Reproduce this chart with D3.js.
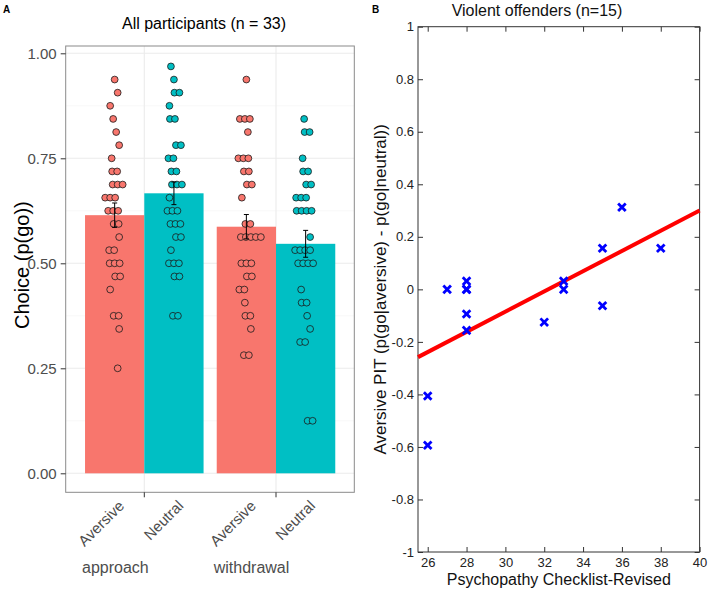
<!DOCTYPE html>
<html>
<head>
<meta charset="utf-8">
<script src="https://cdn.jsdelivr.net/npm/d3@7"></script>
<style>
  html, body { margin: 0; padding: 0; background: #fff; }
  svg { display: block; font-family: "Liberation Sans", Arial, Helvetica, sans-serif; }
</style>
</head>
<body>
<svg id="chart" width="708" height="591"></svg>
<script>
// ---------------- DATA ----------------
// Panel A: proportion of go choices per participant (n = 33), per block type and cue
const groups = ["approach", "withdrawal"];
const conditions = ["Aversive", "Neutral"];
const approachAversive = [0.9375,0.90625,0.875,0.84375,0.8125,0.78125,0.75,0.71875,0.71875,0.6875,0.6875,0.65625,0.65625,0.625,0.625,0.59375,0.5625,0.53125,0.53125,0.5,0.5,0.5,0.46875,0.46875,0.4375,0.375,0.375,0.34375,0.25,0.6875,0.65625,0.625,0.59375];
const approachNeutral = [0.96875,0.9375,0.90625,0.90625,0.875,0.84375,0.78125,0.78125,0.75,0.71875,0.6875,0.6875,0.65625,0.625,0.625,0.59375,0.59375,0.5625,0.53125,0.5,0.5,0.46875,0.375,0.375,0.84375,0.75,0.71875,0.6875,0.625,0.59375,0.5625,0.5,0.46875];
const withdrawalAversive = [0.9375,0.84375,0.84375,0.8125,0.75,0.75,0.71875,0.71875,0.6875,0.65625,0.59375,0.5625,0.5625,0.5625,0.5,0.46875,0.46875,0.4375,0.4375,0.40625,0.375,0.34375,0.28125,0.28125,0.84375,0.75,0.6875,0.59375,0.5625,0.5,0.5,0.375,0.5625];
const withdrawalNeutral = [0.84375,0.8125,0.75,0.71875,0.71875,0.6875,0.65625,0.65625,0.65625,0.625,0.625,0.625,0.5625,0.53125,0.53125,0.5,0.5,0.4375,0.40625,0.375,0.34375,0.3125,0.3125,0.125,0.125,0.8125,0.6875,0.625,0.53125,0.53125,0.5,0.5,0.40625];
const standardErrors = [0.029, 0.027, 0.029, 0.032]; // approach-Aversive, approach-Neutral, withdrawal-Aversive, withdrawal-Neutral
const yTicksA = [0, 0.25, 0.5, 0.75, 1];
const yMinorA = [0.125, 0.375, 0.625, 0.875];

// Panel B: violent offenders (n = 15)
const pclr = [26, 26, 27, 28, 28, 28, 28, 28, 32, 33, 33, 35, 35, 36, 38];
const aversivePIT = [-0.40625, -0.59375, 0, 0.03125, 0, 0, -0.09375, -0.15625, -0.125, 0.03125, 0, 0.15625, -0.0625, 0.3125, 0.15625];
const fitX = [25.5, 40];
const fitY = [-0.258, 0.300];
const xTicksB = [26, 28, 30, 32, 34, 36, 38, 40];
const yTicksB = [-1, -0.8, -0.6, -0.4, -0.2, 0, 0.2, 0.4, 0.6, 0.8, 1];

// ---------------- CHART ----------------
const svg = d3.select("#chart");
const fillColor = { Aversive: "#F8766D", Neutral: "#00BFC4" };
const seriesMap = {
  "approach|Aversive": approachAversive,
  "approach|Neutral": approachNeutral,
  "withdrawal|Aversive": withdrawalAversive,
  "withdrawal|Neutral": withdrawalNeutral
};
const seKeys = ["approach|Aversive", "approach|Neutral", "withdrawal|Aversive", "withdrawal|Neutral"];

// ---- Panel A ----
const A = { left: 65.7, right: 354.3, top: 46, bottom: 492.3 };
const yA = d3.scaleLinear().domain([0, 1]).range([473.3, 53.3]);
const xA = d3.scaleBand().domain(groups).range([78.45, 341.85]);
const dodge = xA.bandwidth() * 0.9;
const xSub = d3.scaleBand().domain(conditions).range([0, dodge]);
const barX = (g, c) => xA(g) + (xA.bandwidth() - dodge) / 2 + xSub(c);
const barCenter = (g, c) => barX(g, c) + xSub.bandwidth() / 2;

const gA = svg.append("g");
gA.append("rect").attr("x", A.left).attr("y", A.top).attr("width", A.right - A.left).attr("height", A.bottom - A.top).attr("fill", "#fff");
// grid
gA.selectAll(".minor").data(yMinorA).join("line")
  .attr("x1", A.left).attr("x2", A.right).attr("y1", d => yA(d)).attr("y2", d => yA(d))
  .attr("stroke", "#F2F2F2").attr("stroke-width", 0.6);
gA.selectAll(".major").data(yTicksA).join("line")
  .attr("x1", A.left).attr("x2", A.right).attr("y1", d => yA(d)).attr("y2", d => yA(d))
  .attr("stroke", "#EBEBEB").attr("stroke-width", 1.1);
gA.selectAll(".vgrid").data(groups).join("line")
  .attr("x1", d => xA(d) + xA.bandwidth() / 2).attr("x2", d => xA(d) + xA.bandwidth() / 2)
  .attr("y1", A.top).attr("y2", A.bottom)
  .attr("stroke", "#EBEBEB").attr("stroke-width", 1.1);

// bars
const barData = [];
groups.forEach(g => conditions.forEach(c => {
  const vals = seriesMap[g + "|" + c];
  barData.push({ g, c, mean: d3.mean(vals), se: standardErrors[seKeys.indexOf(g + "|" + c)], vals });
}));
gA.selectAll(".bar").data(barData).join("rect")
  .attr("x", d => barX(d.g, d.c)).attr("width", xSub.bandwidth())
  .attr("y", d => yA(d.mean)).attr("height", d => yA(0) - yA(d.mean))
  .attr("fill", d => fillColor[d.c]);

// points (deterministic spread of tied values)
const pts = [];
barData.forEach(b => {
  const byVal = d3.group(b.vals, v => v);
  byVal.forEach((arr, v) => {
    const k = Math.round(v * 32);
    const shift = (((k * 5) % 7) - 3) * 1.5;
    arr.forEach((vv, i) => {
      pts.push({ c: b.c, x: barCenter(b.g, b.c) + (i - (arr.length - 1) / 2) * 5 + shift, v: vv });
    });
  });
});
gA.selectAll(".pt").data(pts).join("circle")
  .attr("cx", d => d.x).attr("cy", d => yA(d.v)).attr("r", 3.4)
  .attr("fill", d => fillColor[d.c]).attr("stroke", "#1a1a1a").attr("stroke-width", 0.8);

// error bars
const eb = gA.selectAll(".eb").data(barData).join("g").attr("stroke", "#000").attr("stroke-width", 1);
eb.append("line").attr("x1", d => barCenter(d.g, d.c)).attr("x2", d => barCenter(d.g, d.c))
  .attr("y1", d => yA(d.mean + d.se)).attr("y2", d => yA(d.mean - d.se));
eb.append("line").attr("x1", d => barCenter(d.g, d.c) - 2.5).attr("x2", d => barCenter(d.g, d.c) + 2.5)
  .attr("y1", d => yA(d.mean + d.se)).attr("y2", d => yA(d.mean + d.se));
eb.append("line").attr("x1", d => barCenter(d.g, d.c) - 2.5).attr("x2", d => barCenter(d.g, d.c) + 2.5)
  .attr("y1", d => yA(d.mean - d.se)).attr("y2", d => yA(d.mean - d.se));

// border
gA.append("rect").attr("x", A.left).attr("y", A.top).attr("width", A.right - A.left).attr("height", A.bottom - A.top)
  .attr("fill", "none").attr("stroke", "#8a8a8a").attr("stroke-width", 1);

// y axis
const yAxisA = d3.axisLeft(yA).tickValues(yTicksA).tickFormat(d3.format(".2f")).tickSize(5).tickPadding(4);
const gyA = svg.append("g").attr("transform", `translate(${A.left},0)`).call(yAxisA);
gyA.select(".domain").remove();
gyA.selectAll(".tick line").attr("stroke", "#333");
gyA.selectAll(".tick text").attr("fill", "#4D4D4D").style("font-size", "15px").style("font-family", "Liberation Sans, Arial, sans-serif");

// x ticks at group centres
svg.selectAll(".xtA").data(groups).join("line")
  .attr("x1", d => xA(d) + xA.bandwidth() / 2).attr("x2", d => xA(d) + xA.bandwidth() / 2)
  .attr("y1", A.bottom).attr("y2", A.bottom + 5).attr("stroke", "#333");

// rotated condition labels
svg.selectAll(".xlabA").data(barData).join("text")
  .attr("transform", d => `translate(${barCenter(d.g, d.c) + 3},${A.bottom + 7}) rotate(-45)`)
  .attr("text-anchor", "end").attr("dy", "0.7em")
  .attr("fill", "#4D4D4D").style("font-size", "15px").text(d => d.c);

// group labels
svg.selectAll(".glabA").data(groups).join("text")
  .attr("x", d => xA(d) + (xA.bandwidth() - dodge) / 2 - 3).attr("y", 573)
  .attr("fill", "#4D4D4D").style("font-size", "16px").text(d => d);

// titles
svg.append("text").attr("x", 204).attr("y", 29).attr("text-anchor", "middle").style("font-size", "16px").attr("fill", "#000").text("All participants (n = 33)");
svg.append("text").attr("transform", `translate(29,${(A.top + A.bottom) / 2 - 4}) rotate(-90)`).attr("text-anchor", "middle")
  .style("font-size", "20px").attr("fill", "#000").text("Choice (p(go))");
svg.append("text").attr("x", 3).attr("y", 13).style("font-size", "10px").style("font-weight", "bold").text("A");

// ---- Panel B ----
const B = { left: 418, right: 699.6, top: 26.7, bottom: 552 };
const xB = d3.scaleLinear().domain([25.5, 40]).range([B.left, B.right]);
const yB = d3.scaleLinear().domain([-1, 1]).range([B.bottom, B.top]);
const fmtB = d => String(+d.toFixed(1));
const gB = svg.append("g");

const axL = gB.append("g").attr("transform", `translate(${B.left},0)`)
  .call(d3.axisLeft(yB).tickValues(yTicksB).tickFormat(fmtB).tickSizeInner(-5).tickSizeOuter(0).tickPadding(4));
const axR = gB.append("g").attr("transform", `translate(${B.right},0)`)
  .call(d3.axisRight(yB).tickValues(yTicksB).tickFormat("").tickSizeInner(-5).tickSizeOuter(0));
const axBt = gB.append("g").attr("transform", `translate(0,${B.bottom})`)
  .call(d3.axisBottom(xB).tickValues(xTicksB).tickFormat(d3.format("d")).tickSizeInner(-5).tickSizeOuter(0).tickPadding(6));
const axT = gB.append("g").attr("transform", `translate(0,${B.top})`)
  .call(d3.axisTop(xB).tickValues(xTicksB).tickFormat("").tickSizeInner(-5).tickSizeOuter(0));
[axL, axR, axBt, axT].forEach(a => {
  a.select(".domain").remove();
  a.selectAll(".tick line").attr("stroke", "#333");
  a.selectAll(".tick text").attr("fill", "#222").style("font-size", "13px").style("font-family", "Liberation Sans, Arial, sans-serif");
});
gB.append("rect").attr("x", B.left).attr("y", B.top).attr("width", B.right - B.left).attr("height", B.bottom - B.top)
  .attr("fill", "none").attr("stroke", "#333").attr("stroke-width", 1);

// regression line
gB.append("path").datum(fitX.map((x, i) => [x, fitY[i]]))
  .attr("d", d3.line().x(d => xB(d[0])).y(d => yB(d[1])))
  .attr("stroke", "#FF0000").attr("stroke-width", 4).attr("fill", "none");

// markers
const mk = gB.selectAll(".mk").data(pclr.map((x, i) => ({ x, y: aversivePIT[i] }))).join("g")
  .attr("transform", d => `translate(${xB(d.x)},${yB(d.y)})`)
  .attr("stroke", "#0000FF").attr("stroke-width", 2.8);
mk.append("line").attr("x1", -3.8).attr("y1", -3.8).attr("x2", 3.8).attr("y2", 3.8);
mk.append("line").attr("x1", -3.8).attr("y1", 3.8).attr("x2", 3.8).attr("y2", -3.8);

svg.append("text").attr("x", 537).attr("y", 16).attr("text-anchor", "middle").style("font-size", "16px").attr("fill", "#111").text("Violent offenders (n=15)");
svg.append("text").attr("x", (B.left + B.right) / 2).attr("y", 585).attr("text-anchor", "middle").style("font-size", "16px").attr("fill", "#111").text("Psychopathy Checklist-Revised");
svg.append("text").attr("transform", `translate(386,${(B.top + B.bottom) / 2}) rotate(-90)`).attr("text-anchor", "middle")
  .style("font-size", "17px").attr("fill", "#111").text("Aversive PIT (p(go|aversive) - p(go|neutral))");
svg.append("text").attr("x", 372).attr("y", 13).style("font-size", "10px").style("font-weight", "bold").text("B");
</script>
</body>
</html>
